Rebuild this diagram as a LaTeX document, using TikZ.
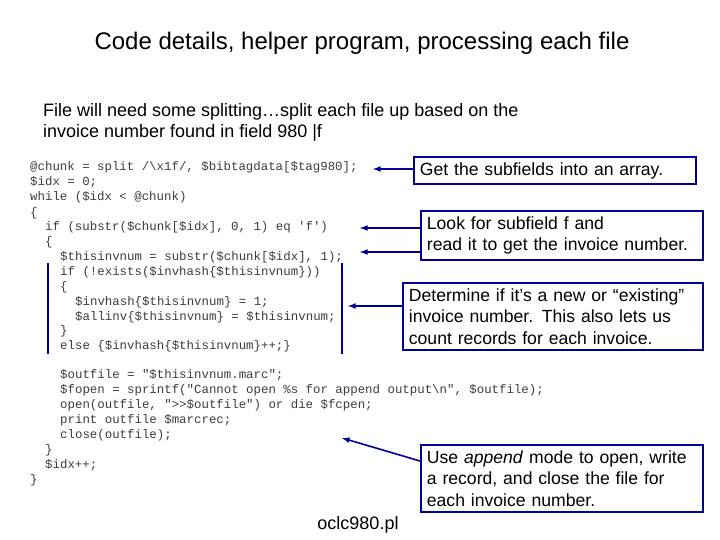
\documentclass[tikz,border=0pt]{standalone}
\usepackage{fontspec}
\setmainfont{Liberation Sans}
\newfontfamily\codefont{Liberation Mono}
\definecolor{navy}{RGB}{0,0,150}
\definecolor{codegray}{RGB}{60,60,60}
\begin{document}
\begin{tikzpicture}[x=1pt,y=-1pt,
  box/.style={draw=navy,line width=1.8pt,anchor=north west,align=left,inner xsep=6pt,inner ysep=5.5pt,font=\fontsize{17.6}{21.5}\selectfont},
  arr/.style={navy,line width=1.6pt,-latex},
  bar/.style={navy,line width=2.6pt},
  code/.style={anchor=base west,inner sep=0pt,font=\codefont\fontsize{12.4}{14.9}\selectfont,text=codegray}]
\useasboundingbox (0,0) rectangle (720,540);
\node[font=\fontsize{24}{28}\selectfont] (title) at (362,43) {Code details, helper program, processing each file};
\node[anchor=north west,align=left,inner sep=0pt,font=\fontsize{18}{21}\selectfont] (intro) at (43,103) {File will need some splitting\ldots split each file up based on the\\invoice number found in field 980 |f};
\foreach \t/\x/\y [count=\i] in {
 {@chunk = split /\textbackslash x1f/, \$bibtagdata[\$tag980];}/30/171,
 {\$idx = 0;}/30/186,
 {while (\$idx < @chunk)}/30/201,
 {\{}/30/216,
 {if (substr(\$chunk[\$idx], 0, 1) eq 'f')}/45/230,
 {\{}/45/245,
 {\$thisinvnum = substr(\$chunk[\$idx], 1);}/60/260,
 {if (!exists(\$invhash\{\$thisinvnum\}))}/60/275,
 {\{}/60/290,
 {\$invhash\{\$thisinvnum\} = 1;}/75/305,
 {\$allinv\{\$thisinvnum\} = \$thisinvnum;}/75/320,
 {\}}/60/334,
 {else \{\$invhash\{\$thisinvnum\}++;\}}/60/349,
 {\$outfile = "\$thisinvnum.marc";}/60/378,
 {\$fopen = sprintf("Cannot open \%s for append output\textbackslash n", \$outfile);}/60/393,
 {open(outfile, ">>\$outfile") or die \$fcpen;}/60/408,
 {print outfile \$marcrec;}/60/423,
 {close(outfile);}/60/438,
 {\}}/45/453,
 {\$idx++;}/45/468,
 {\}}/30/483}
 {\node[code] (c\i) at (\x,\y) {\t};}
\node[box,text width=270pt] (b1) at (413,156) {Get the subfields into an array.};
\node[box,text width=270pt] (b2) at (420,210) {Look for subfield f and\\read it to get the invoice number.};
\node[box,text width=288pt] (b3) at (402,282) {Determine if it’s a new or “existing”\\invoice number. This also lets us\\count records for each invoice.};
\node[box,text width=270pt] (b4) at (420,444) {Use \emph{append} mode to open, write\\a record, and close the file for\\each invoice number.};
\node[font=\fontsize{18}{20}\selectfont] (fname) at (358,525) {oclc980.pl};
\coordinate (a1) at (373,169);
\coordinate (a2) at (360,228);
\coordinate (a3) at (360,252);
\coordinate (a4) at (348,306);
\coordinate (a5) at (342,438);
\draw[arr] (b1.west |- a1) -- (a1);
\draw[arr] (b2.west |- a2) -- (a2);
\draw[arr] (b2.west |- a3) -- (a3);
\draw[arr] (b3.west |- a4) -- (a4);
\draw[arr] (b4.north west) ++(0,17) -- (a5);
\coordinate (l1) at (48,263); \coordinate (l2) at (48,354);
\coordinate (r1) at (342,263); \coordinate (r2) at (342,354);
\draw[bar] (l1) -- (l2);
\draw[bar] (r1) -- (r2);
\end{tikzpicture}
\end{document}
